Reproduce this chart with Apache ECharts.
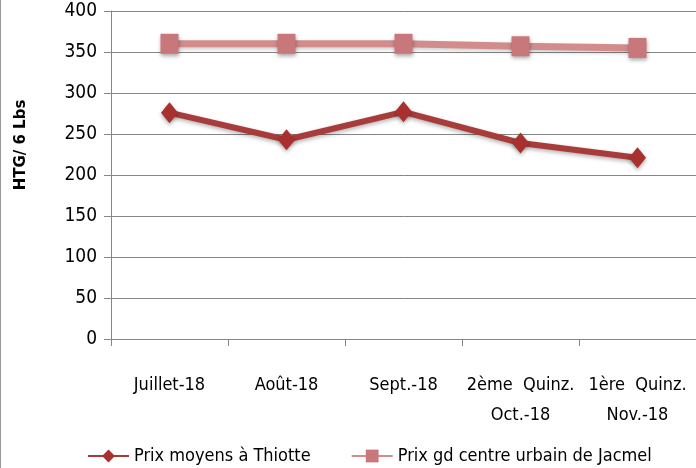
<!DOCTYPE html>
<html><head><meta charset="utf-8">
<script src="https://cdn.jsdelivr.net/npm/echarts@6/dist/echarts.min.js"></script>
<style>html,body{margin:0;padding:0;background:#fff}#c{width:696px;height:468px}</style>
</head><body><div id="c"></div>
<script>
var categories = ["Juillet-18", "Août-18", "Sept.-18", "2ème  Quinz.\nOct.-18", "1ère  Quinz.\nNov.-18"];
var thiotte = [276, 243, 277, 239, 221];
var jacmel = [360, 360, 360, 357, 355];
var yTicks = {min: 0, max: 400, interval: 50};
var seriesNames = ["Prix moyens à Thiotte", "Prix gd centre urbain de Jacmel"];
var yName = "HTG/ 6 Lbs";

var FONT = "'Liberation Sans Narrow', 'DejaVu Sans Condensed', 'Open Sans', sans-serif";
var chart = echarts.init(document.getElementById('c'), null, {renderer: 'canvas'});
chart.setOption({
  animation: false,
  backgroundColor: '#fff',
  grid: {left: 111, right: 0, top: 11, bottom: 129},
  legend: {
    top: 442, left: 82,
    itemWidth: 41, itemHeight: 16, itemGap: 40,
    textStyle: {fontFamily: FONT, fontSize: 18, color: '#000'},
    data: seriesNames
  },
  graphic: [{
    type: 'text', x: 21, y: 145, rotation: Math.PI / 2,
    style: {text: yName, fontFamily: "'DejaVu Sans', sans-serif", fontWeight: 'bold', fontSize: 15, fill: '#000', align: 'center', verticalAlign: 'middle'}
  }, {
    type: 'line', shape: {x1: 0.5, y1: 0, x2: 0.5, y2: 468}, style: {stroke: '#999', lineWidth: 1}
  }],
  xAxis: {
    type: 'category', data: categories, boundaryGap: true,
    axisLine: {lineStyle: {color: '#868686'}},
    axisTick: {show: true, length: 7, lineStyle: {color: '#868686'}},
    axisLabel: {fontFamily: FONT, fontSize: 18, color: '#000', margin: 31, lineHeight: 30, interval: 0}
  },
  yAxis: {
    type: 'value', min: yTicks.min, max: yTicks.max, interval: yTicks.interval,
    axisLine: {show: true, lineStyle: {color: '#868686'}},
    axisTick: {show: true, length: 7, lineStyle: {color: '#868686'}},
    splitLine: {lineStyle: {color: '#868686', width: 1}},
    axisLabel: {fontFamily: FONT, fontSize: 19, color: '#000', margin: 14}
  },
  series: [{
    name: seriesNames[0], type: 'line', data: thiotte,
    symbol: 'diamond', symbolSize: [17, 21],
    lineStyle: {color: '#A83C3A', width: 6, shadowColor: 'rgba(0,0,0,0.3)', shadowBlur: 4, shadowOffsetY: 2},
    itemStyle: {color: '#A8302E', shadowColor: 'rgba(0,0,0,0.35)', shadowBlur: 4, shadowOffsetY: 2}
  }, {
    name: seriesNames[1], type: 'line', data: jacmel,
    symbol: 'rect', symbolSize: [18, 20],
    lineStyle: {color: '#D28C8C', width: 7, shadowColor: 'rgba(0,0,0,0.2)', shadowBlur: 4, shadowOffsetY: 2},
    itemStyle: {color: '#C8787A', shadowColor: 'rgba(0,0,0,0.35)', shadowBlur: 4, shadowOffsetY: 2}
  }]
});
</script></body></html>
